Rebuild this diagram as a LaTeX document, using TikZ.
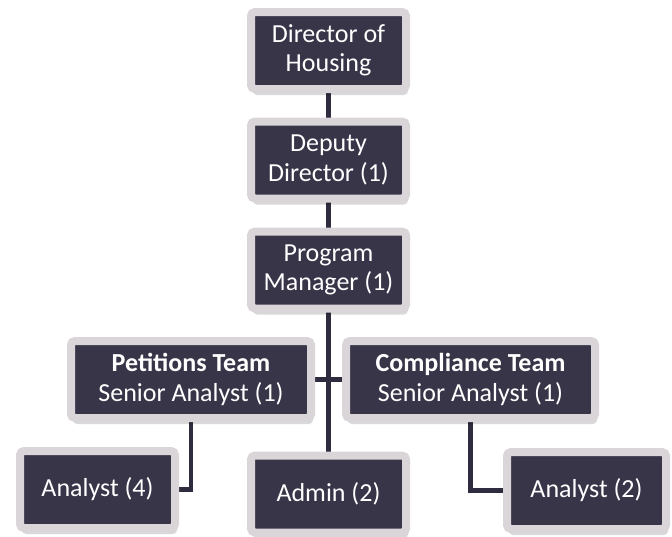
\documentclass[tikz,border=0pt]{standalone}
\usepackage{fontspec}
\setmainfont{Carlito}
\usetikzlibrary{shadows,backgrounds}
\definecolor{boxfill}{HTML}{383549}
\definecolor{boxrim}{HTML}{DAD5D8}
\definecolor{wire}{HTML}{2E2C3E}

\begin{document}
\begin{tikzpicture}[x=1pt,y=-1pt]
    \tikzstyle{box}=[rectangle,draw=boxrim,line width=8pt,rounded corners=4pt,fill=boxfill,text=white,align=center,inner sep=0pt,minimum height=77pt,font=\fontsize{26}{29.5}\selectfont,drop shadow={shadow xshift=2pt,shadow yshift=-6pt,opacity=0.15,fill=black}]
    \tikzstyle{link}=[draw=wire,line width=4.5pt]
    \useasboundingbox (0,0) rectangle (672,536);
    \node[box,minimum width=155pt] (dir) at (328.5,50.5) {Director of\\Housing};
    \node[box,minimum width=155pt] (dep) at (328.5,160) {Deputy\\Director (1)};
    \node[box,minimum width=155pt] (pm) at (328.5,270) {Program\\Manager (1)};
    \node[box,minimum width=240pt] (pet) at (191,379.5) {\textbf{Petitions Team}\\Senior Analyst (1)};
    \node[box,minimum width=249pt] (comp) at (470.5,379.5) {\textbf{Compliance Team}\\Senior Analyst (1)};
    \node[box,minimum width=155pt] (an4) at (97.5,489.5) {Analyst (4)};
    \node[box,minimum width=155pt] (adm) at (328.5,494) {Admin (2)};
    \node[box,minimum width=159pt] (an2) at (586.5,490.5) {Analyst (2)};
    \begin{scope}[on background layer]
        \draw[link] (dir.center) -- (dep.center);
        \draw[link] (dep.center) -- (pm.center);
        \draw[link] (pm.center) -- (adm.center);
        \draw[link] (pet.center) -- (comp.center);
        \draw[link] (pet.center) |- (an4.center);
        \draw[link] (comp.center) |- (an2.center);
    \end{scope}
\end{tikzpicture}
\end{document}
